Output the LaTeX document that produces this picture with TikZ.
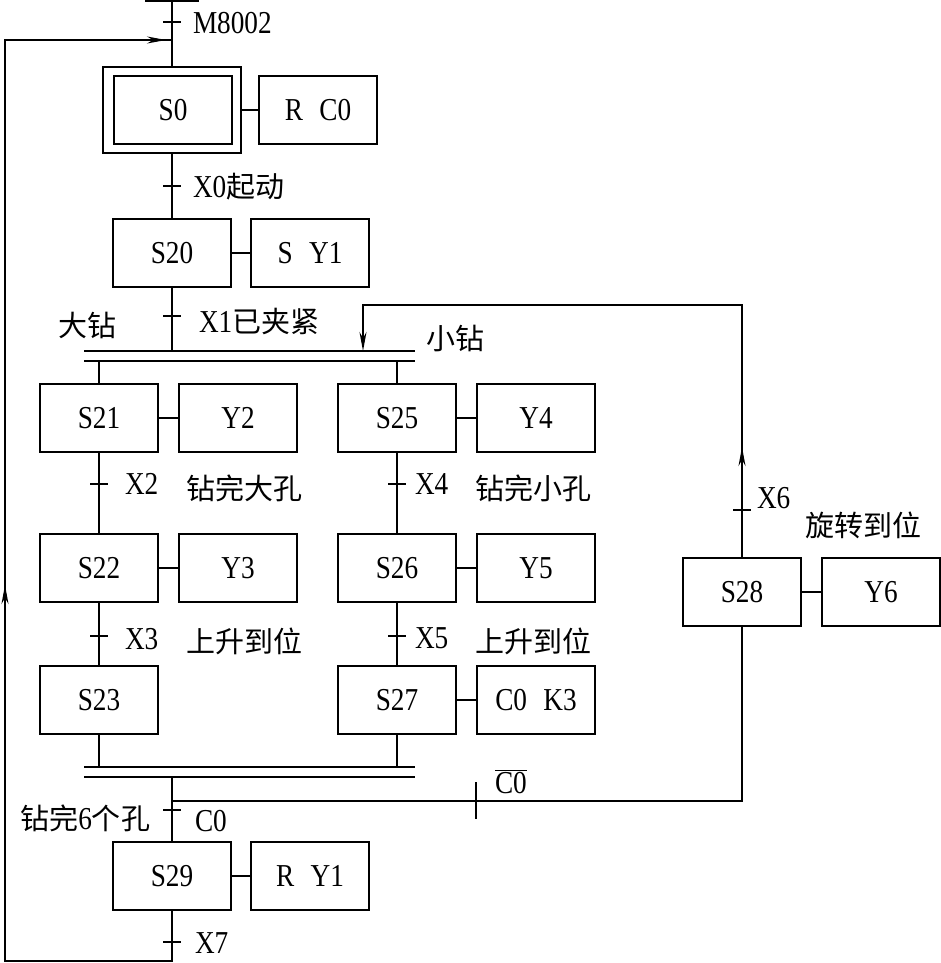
\documentclass[tikz,border=0pt]{standalone}
\usepackage{fontspec}
\setmainfont{Liberation Serif}
\newfontfamily\cjk{Noto Sans CJK SC}
\usetikzlibrary{arrows.meta,decorations.markings}
\newcommand\lt[1]{\scalebox{0.94}[1.1]{#1}}
\begin{document}
\begin{tikzpicture}[x=1pt,y=-1pt,line width=1.9pt,
  every node/.style={font=\fontsize{29}{32}\selectfont, inner sep=0pt, outer sep=0pt},
  box/.style={draw, rectangle, minimum width=118pt, minimum height=68pt},
  lbl/.style={anchor=west},
]
\useasboundingbox (0,0) rectangle (941,963);

% states
\node[box] (S0) at (173,110) {\lt{S0}};
\node[draw, rectangle, minimum width=138pt, minimum height=86pt] (S0f) at (172,110) {};
\node[box] (RC0) at (318,110) {\lt{R\hspace{0.6em}C0}};
\node[box] (S20) at (172,253) {\lt{S20}};
\node[box] (SY1) at (310,253) {\lt{S\hspace{0.6em}Y1}};
\node[box] (S21) at (99,418) {\lt{S21}};
\node[box] (Y2) at (238,418) {\lt{Y2}};
\node[box] (S22) at (99,568) {\lt{S22}};
\node[box] (Y3) at (238,568) {\lt{Y3}};
\node[box] (S23) at (99,700) {\lt{S23}};
\node[box] (S25) at (397,418) {\lt{S25}};
\node[box] (Y4) at (536,418) {\lt{Y4}};
\node[box] (S26) at (397,568) {\lt{S26}};
\node[box] (Y5) at (536,568) {\lt{Y5}};
\node[box] (S27) at (397,700) {\lt{S27}};
\node[box] (C0K3) at (536,700) {\lt{C0\hspace{0.6em}K3}};
\node[box] (S28) at (742,592) {\lt{S28}};
\node[box] (Y6) at (881,592) {\lt{Y6}};
\node[box] (S29) at (172,876) {\lt{S29}};
\node[box] (RY1) at (310,876) {\lt{R\hspace{0.6em}Y1}};

% coordinates
\coordinate (top) at (172,0);
\coordinate (join) at (172,40);
\coordinate (div) at (172,351);
\coordinate (divL) at (99,361);
\coordinate (divR) at (397,361);
\coordinate (convL) at (99,767);
\coordinate (convR) at (397,767);
\coordinate (conv) at (172,777);
\coordinate (br) at (172,801);
\coordinate (brR) at (742,801);
\coordinate (ret1) at (742,305);
\coordinate (ret2) at (363,305);
\coordinate (retE) at (363,351);
\coordinate (lp1) at (172,961);
\coordinate (lp2) at (5,961);
\coordinate (lp3) at (5,40);

% initial bar
\draw[line width=5pt] (145,0) -- (199,0);

% action links
\draw (S0f.east) -- (RC0.west);
\draw (S20.east) -- (SY1.west);
\draw (S21.east) -- (Y2.west);
\draw (S22.east) -- (Y3.west);
\draw (S25.east) -- (Y4.west);
\draw (S26.east) -- (Y5.west);
\draw (S27.east) -- (C0K3.west);
\draw (S28.east) -- (Y6.west);
\draw (S29.east) -- (RY1.west);

% main flow
\draw (top) -- (S0f.north);
\draw (S0f.south) -- (S20.north);
\draw (S20.south) -- (div);
\draw (84,351) -- (415,351);
\draw (84,361) -- (415,361);
\draw (divL) -- (S21.north);
\draw (S21.south) -- (S22.north);
\draw (S22.south) -- (S23.north);
\draw (S23.south) -- (convL);
\draw (divR) -- (S25.north);
\draw (S25.south) -- (S26.north);
\draw (S26.south) -- (S27.north);
\draw (S27.south) -- (convR);
\draw (84,767) -- (415,767);
\draw (84,777) -- (415,777);
\draw (conv) -- (S29.north);
\draw (br) -- (brR) -- (S28.south);

% loops
\draw[-{Stealth[length=19pt,width=7pt]},
  postaction={decorate},
  decoration={markings, mark=at position 111pt with {\arrow{Stealth[length=19pt,width=7pt]}}}]
  (S28.north) -- (ret1) -- (ret2) -- (retE);
\draw[postaction={decorate},
  decoration={markings,
    mark=at position 594pt with {\arrow{Stealth[length=19pt,width=7pt]}},
    mark=at position -6pt with {\arrow{Stealth[length=19pt,width=7pt]}}}]
  (S29.south) -- (lp1) -- (lp2) -- (lp3) -- (join);

% transition ticks
\draw (163,22) -- (181,22);
\draw (163,186) -- (181,186);
\draw (163,316) -- (181,316);
\draw (90,484) -- (108,484);
\draw (90,636) -- (108,636);
\draw (388,484) -- (406,484);
\draw (388,636) -- (406,636);
\draw (733,510) -- (751,510);
\draw (163,810) -- (181,810);
\draw (163,942) -- (181,942);
\draw (476,782) -- (476,819);

% labels
\node[lbl] (tM) at (193,23) {\lt{M8002}};
\node[lbl] (tX0) at (193,187) {\lt{X0}{\cjk 起动}};
\node[lbl] (tX1) at (199,321) {\lt{X1}{\cjk 已夹紧}};
\node (tBig) at (87,325) {\cjk 大钻};
\node[lbl] (tSmall) at (426,338) {\cjk 小钻};
\node[lbl] (tX2) at (125,484) {\lt{X2}};
\node[lbl] (tX2c) at (186,488) {\cjk 钻完大孔};
\node[lbl] (tX3) at (125,639) {\lt{X3}};
\node[lbl] (tX3c) at (186,641) {\cjk 上升到位};
\node[lbl] (tX4) at (415,484) {\lt{X4}};
\node[lbl] (tX4c) at (475,488) {\cjk 钻完小孔};
\node[lbl] (tX5) at (415,638) {\lt{X5}};
\node[lbl] (tX5c) at (475,641) {\cjk 上升到位};
\node[lbl] (tX6) at (757,498) {\lt{X6}};
\node[lbl] (tX6c) at (805,525) {\cjk 旋转到位};
\node[anchor=base west] (tC0b) at (495,793) {\lt{$\overline{\mbox{C0}}$}};
\node[anchor=east] (tC0c) at (150,818) {{\cjk 钻完}\lt{6}{\cjk 个孔}};
\node[lbl] (tC0) at (195,821) {\lt{C0}};
\node[lbl] (tX7) at (195,943) {\lt{X7}};
\end{tikzpicture}
\end{document}
